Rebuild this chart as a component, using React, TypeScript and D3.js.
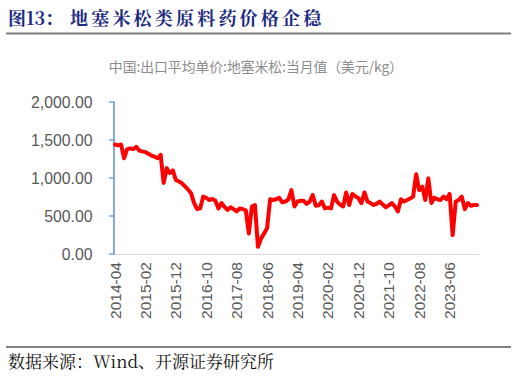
import React from "react";
import * as d3 from "d3";

const startYear = 2014;
const startMonth = 4;
const values: number[] = [
  1440, 1430, 1440, 1260, 1380, 1390, 1380, 1410, 1360, 1350,
  1340, 1320, 1295, 1280, 1260, 1305, 935, 1130, 1065, 1100,
  975, 955, 930, 890, 850, 800, 670, 590, 600, 755,
  740, 710, 725, 700, 600, 670, 620, 580, 615, 590,
  560, 600, 590, 575, 270, 625, 645, 95, 200, 270,
  340, 720, 710, 720, 740, 680, 690, 720, 840, 625,
  690, 700, 700, 660, 690, 775, 635, 640, 690, 600,
  610, 600, 775, 690, 650, 625, 810, 645, 790, 760,
  735, 670, 810, 690, 670, 645, 660, 690, 650, 615,
  640, 670, 625, 560, 720, 690, 710, 730, 755, 1050,
  840, 885, 710, 995, 670, 740, 720, 710, 755, 720,
  790, 250, 690, 710, 755, 590, 670, 635, 645, 645,
];
const months: string[] = values.map((_, i) => {
  const m = startMonth - 1 + i;
  const y = startYear + Math.floor(m / 12);
  const mm = (m % 12) + 1;
  return `${y}-${mm < 10 ? "0" + mm : mm}`;
});
const yTicks: number[] = [0, 500, 1000, 1500, 2000];
const tickEvery = 10;

const titlePrefix = "图13：";
const titleMain = "地塞米松类原料药价格企稳";
const chartTitle = "中国:出口平均单价:地塞米松:当月值（美元/kg）";
const source = "数据来源：Wind、开源证券研究所";

export default function App() {
  const W = 516, H = 377;
  const x = d3.scaleLinear().domain([0, values.length - 1]).range([115, 477]);
  const y = d3.scaleLinear().domain([0, 2000]).range([254, 102]);
  const line = d3.line<number>().x((_, i) => x(i)).y((d) => y(d));
  const fmt = d3.format(",.2f");
  const axisFont = "'Liberation Sans', Arial, sans-serif";
  const tickIdx = months.map((_, i) => i).filter((i) => i % tickEvery === 0);
  return (
    <svg width={W} height={H} style={{ position: "absolute", left: 0, top: 0 }}>
      <rect width={W} height={H} fill="#fff" />
      <text x={8} y={25} fontSize={18} fontWeight="bold" fill="#1b2a84"
        fontFamily="'Noto Serif CJK SC', 'Noto Sans CJK SC', serif">
        <tspan>{titlePrefix}</tspan>
        <tspan x={70} letterSpacing={3.2}>{titleMain}</tspan>
      </text>
      <line x1={6} x2={511} y1={33.5} y2={33.5} stroke="#7f7f7f" strokeWidth={2} />
      <text x={256} y={72} textAnchor="middle" fontSize={13.8} fill="#8c8c8c"
        fontFamily="'Noto Sans CJK SC', sans-serif">{chartTitle}</text>
      {yTicks.map((t) => (
        <g key={t}>
          <line x1={109} x2={114} y1={y(t)} y2={y(t)} stroke="#5b8fd0" strokeWidth={1.2} />
          <text x={92.5} y={y(t)} dy="0.35em" textAnchor="end" fontSize={15.8} fill="#595959"
            fontFamily={axisFont}>{fmt(t)}</text>
        </g>
      ))}
      <line x1={114} x2={479} y1={254.5} y2={254.5} stroke="#d9d9d9" strokeWidth={1.2} />
      <line x1={114} x2={114} y1={101.5} y2={254.5} stroke="#5b8fd0" strokeWidth={1.5} />
      {tickIdx.map((i) => (
        <text key={i} transform={`translate(${x(i) + 5.5},${262}) rotate(-90)`} textAnchor="end"
          fontSize={15.5} fill="#595959" fontFamily={axisFont}>{months[i]}</text>
      ))}
      <path d={line(values) || ""} fill="none" stroke="#ff0000" strokeWidth={4}
        strokeLinejoin="round" strokeLinecap="round" />
      <line x1={6} x2={511} y1={347} y2={347} stroke="#7f7f7f" strokeWidth={2} />
      <text x={8} y={368} fontSize={17} fill="#111"
        fontFamily="'Noto Serif CJK SC', 'Liberation Serif', serif">{source}</text>
    </svg>
  );
}
